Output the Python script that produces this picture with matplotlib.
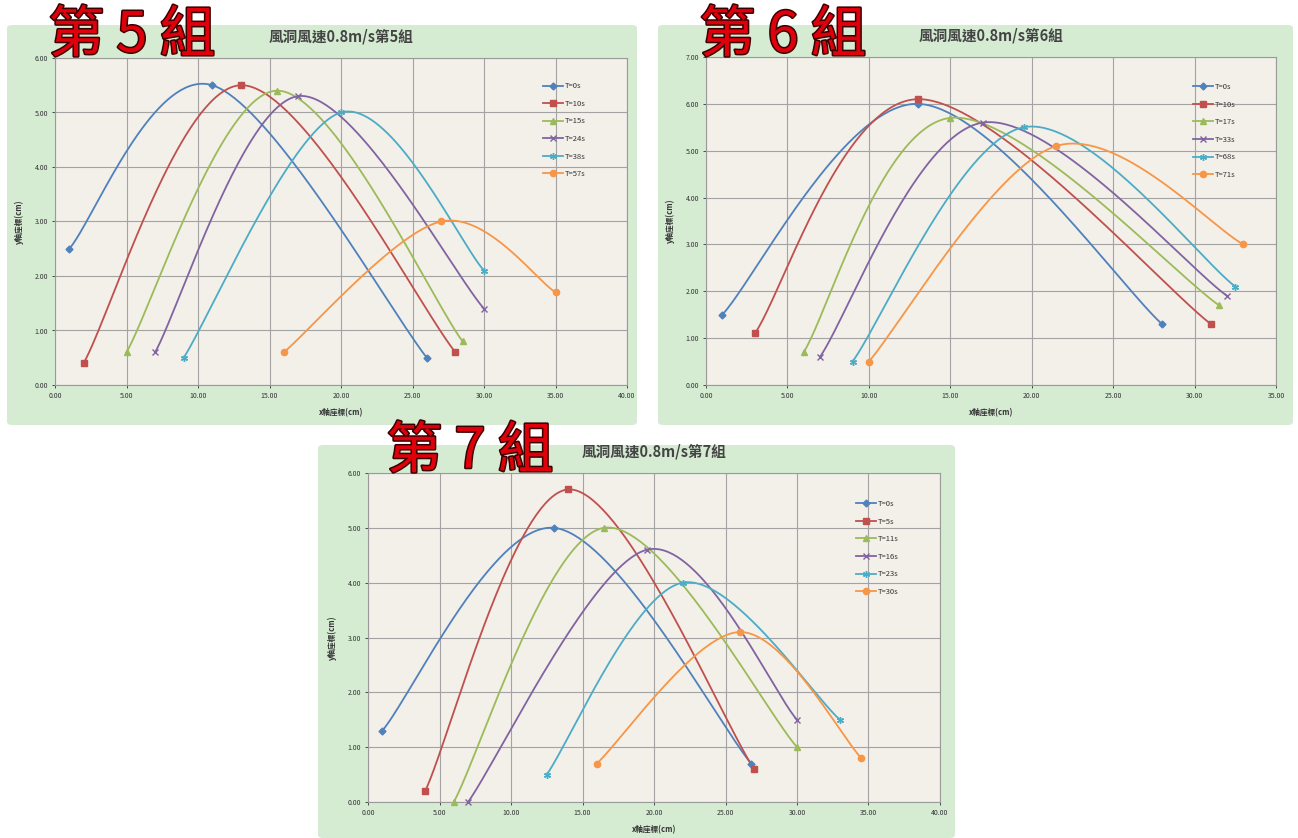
import numpy as np
import matplotlib
matplotlib.use("Agg")
import matplotlib.pyplot as plt
from matplotlib.patches import FancyBboxPatch
import matplotlib.patheffects as pe

plt.rcParams['font.family'] = ['Noto Sans CJK TC', 'DejaVu Sans']

# ---- data: (start, peak, end) points for each trace ----
g5_labels = ["T=0s", "T=10s", "T=15s", "T=24s", "T=38s", "T=57s"]
g5_x = [[1, 11, 26], [2, 13, 28], [5, 15.5, 28.5], [7, 17, 30], [9, 20, 30], [16, 27, 35]]
g5_y = [[2.5, 5.5, 0.5], [0.4, 5.5, 0.6], [0.6, 5.4, 0.8], [0.6, 5.3, 1.4], [0.5, 5.0, 2.1], [0.6, 3.0, 1.7]]

g6_labels = ["T=0s", "T=10s", "T=17s", "T=33s", "T=68s", "T=71s"]
g6_x = [[1, 13, 28], [3, 13, 31], [6, 15, 31.5], [7, 17, 32], [9, 19.5, 32.5], [10, 21.5, 33]]
g6_y = [[1.5, 6.0, 1.3], [1.1, 6.1, 1.3], [0.7, 5.7, 1.7], [0.6, 5.6, 1.9], [0.5, 5.5, 2.1], [0.5, 5.1, 3.0]]

g7_labels = ["T=0s", "T=5s", "T=11s", "T=16s", "T=23s", "T=30s"]
g7_x = [[1, 13, 26.8], [4, 14, 27], [6, 16.5, 30], [7, 19.5, 30], [12.5, 22, 33], [16, 26, 34.5]]
g7_y = [[1.3, 5.0, 0.7], [0.2, 5.7, 0.6], [0.0, 5.0, 1.0], [0.0, 4.6, 1.5], [0.5, 4.0, 1.5], [0.7, 3.1, 0.8]]

series_colors = ["#4F81BD", "#C0504D", "#9BBB59", "#8064A2", "#4BACC6", "#F79646"]
series_markers = ["D", "s", "^", "x", (6, 2, 0), "o"]
marker_sizes = [3.5, 4.5, 4, 4, 5, 4.5]

W, H = 1298, 838
fig = plt.figure(figsize=(W / 100, H / 100), dpi=100)
fig.patch.set_facecolor("white")

FRAME = "#d5ecd3"
PLOT_BG = "#f3efe9"
GRID = "#a3a3a3"


def smooth(xs, ys, n=80):
    """Piecewise cubic Bezier through the points (spreadsheet-style smoothed line)."""
    P = np.column_stack([xs, ys]).astype(float)
    out = []
    t = np.linspace(0, 1, n)[:, None]
    for i in range(len(P) - 1):
        p0 = P[i - 1] if i > 0 else P[i]
        p1, p2 = P[i], P[i + 1]
        p3 = P[i + 2] if i + 2 < len(P) else P[i + 1]
        c1 = p1 + (p2 - p0) / 6.0
        c2 = p2 - (p3 - p1) / 6.0
        seg = ((1 - t) ** 3) * p1 + 3 * ((1 - t) ** 2) * t * c1 + 3 * (1 - t) * t ** 2 * c2 + t ** 3 * p2
        out.append(seg if i == 0 else seg[1:])
    seg = np.vstack(out)
    return seg[:, 0], seg[:, 1]


def px_box(x0, y0, x1, y1):
    return [x0 / W, 1 - y1 / H, (x1 - x0) / W, (y1 - y0) / H]


def frame(x0, y0, x1, y1):
    r = FancyBboxPatch((x0 / W, 1 - y1 / H), (x1 - x0) / W, (y1 - y0) / H,
                       boxstyle="round,pad=0,rounding_size=0.004",
                       transform=fig.transFigure, facecolor=FRAME, edgecolor="none", zorder=-5)
    fig.patches.append(r)


def panel(box, xmax, ymax, labels, xs, ys, title, legend_anchor):
    ax = fig.add_axes(px_box(*box))
    ax.set_zorder(2)
    ax.set_facecolor(PLOT_BG)
    for lab, x, y, c, m, ms in zip(labels, xs, ys, series_colors, series_markers, marker_sizes):
        sx, sy = smooth(x, y)
        ax.plot(sx, sy, color=c, lw=1.3, zorder=3, clip_on=False)
        ax.plot(x, y, linestyle="none", marker=m, color=c, markersize=ms,
                markeredgewidth=1.0, zorder=4, clip_on=False)
        ax.plot([], [], color=c, lw=1.3, marker=m, markersize=ms, markeredgewidth=1.0, label=lab)
    ax.set_xlim(0, xmax)
    ax.set_ylim(0, ymax)
    ax.set_xticks(np.arange(0, xmax + 0.1, 5))
    ax.set_yticks(np.arange(0, ymax + 0.1, 1))
    ax.xaxis.set_major_formatter(matplotlib.ticker.FormatStrFormatter("%.2f"))
    ax.yaxis.set_major_formatter(matplotlib.ticker.FormatStrFormatter("%.2f"))
    ax.grid(True, color=GRID, lw=0.8, zorder=1)
    ax.set_axisbelow(True)
    ax.tick_params(labelsize=5, colors="#333333", length=2, width=0.6, pad=3)
    for s in ax.spines.values():
        s.set_color("#9a9a9a")
        s.set_linewidth(0.8)
    ax.set_xlabel("x軸座標(cm)", fontsize=5.5, fontweight="bold", color="#333333", labelpad=6)
    ax.set_ylabel("y軸座標(cm)", fontsize=5.5, fontweight="bold", color="#333333", labelpad=8)
    ax.set_title(title, fontsize=10.5, fontweight="bold", color="#444444", pad=12)
    ax.legend(loc="upper left", bbox_to_anchor=legend_anchor, frameon=False,
              fontsize=5.5, labelspacing=1.25, handlelength=2.6, handletextpad=0.3,
              borderaxespad=0, labelcolor="#333333")
    return ax


def big_label(text, cx, cy):
    fig.text(cx / W, 1 - cy / H, text, fontsize=40, fontweight="medium", color="#e0000c",
             ha="center", va="center", zorder=10,
             path_effects=[pe.withStroke(linewidth=2.2, foreground="#3a0000")])


frame(7, 25, 637, 425)
frame(658, 25, 1293, 425)
frame(318, 445, 955, 838)

panel((55, 58, 627, 385), 40, 6, g5_labels, g5_x, g5_y, "風洞風速0.8m/s第5組", (0.848, 0.935))
panel((706, 57, 1276, 385), 35, 7, g6_labels, g6_x, g6_y, "風洞風速0.8m/s第6組", (0.849, 0.93))
panel((368, 473, 940, 802), 40, 6, g7_labels, g7_x, g7_y, "風洞風速0.8m/s第7組", (0.848, 0.927))

big_label("第 5 組", 132, 36)
big_label("第 6 組", 783, 36)
big_label("第 7 組", 470, 452)

fig.savefig("out.png", dpi=100)
